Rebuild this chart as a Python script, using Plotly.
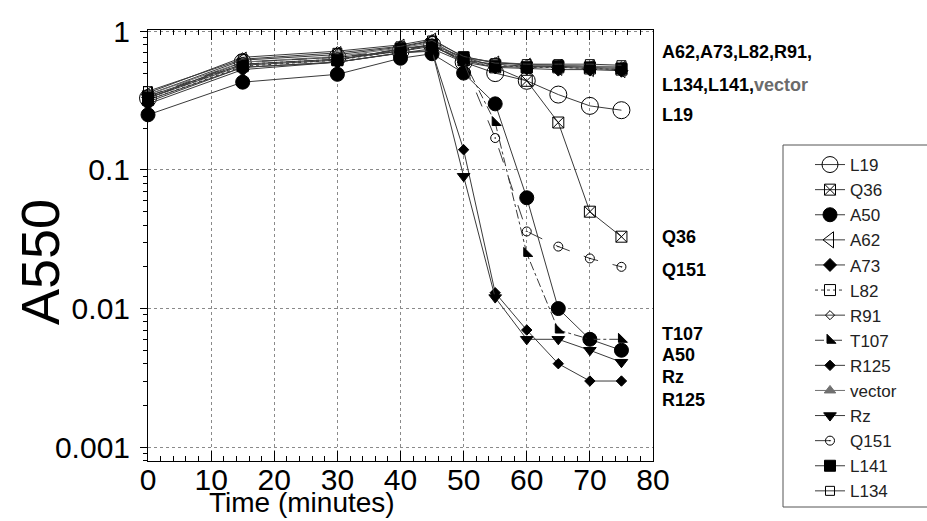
import plotly.graph_objects as go

time_min = [0, 15, 30, 40, 45, 50, 55, 60, 65, 70, 75]

L19 = [0.33, 0.60, 0.65, 0.72, 0.80, 0.60, 0.50, 0.44, 0.35, 0.29, 0.27]
Q36 = [0.34, 0.58, 0.63, 0.72, 0.78, 0.62, 0.55, 0.44, 0.22, 0.05, 0.033]
A50 = [0.25, 0.43, 0.49, 0.64, 0.69, 0.50, 0.30, 0.063, 0.010, 0.006, 0.005]
A62 = [0.35, 0.62, 0.68, 0.77, 0.85, 0.62, 0.58, 0.56, 0.55, 0.54, 0.53]
A73 = [0.30, 0.53, 0.60, 0.70, 0.75, 0.60, 0.55, 0.54, 0.53, 0.53, 0.52]
L82 = [0.32, 0.56, 0.62, 0.72, 0.78, 0.62, 0.57, 0.55, 0.55, 0.54, 0.53]
R91 = [0.36, 0.65, 0.72, 0.80, 0.88, 0.65, 0.60, 0.57, 0.57, 0.56, 0.55]
T107 = [0.33, 0.58, 0.63, 0.74, 0.80, 0.62, 0.22, 0.025, 0.007, 0.006, 0.006]
R125 = [0.31, 0.55, 0.60, 0.70, 0.72, 0.14, 0.013, 0.007, 0.004, 0.003, 0.003]
vector = [0.35, 0.60, 0.66, 0.76, 0.83, 0.64, 0.60, 0.58, 0.57, 0.56, 0.56]
Rz = [0.32, 0.55, 0.60, 0.70, 0.73, 0.09, 0.012, 0.006, 0.006, 0.005, 0.0041]
Q151 = [0.34, 0.60, 0.65, 0.74, 0.80, 0.60, 0.17, 0.036, 0.028, 0.023, 0.020]
L141 = [0.33, 0.57, 0.62, 0.75, 0.80, 0.65, 0.56, 0.55, 0.56, 0.55, 0.54]
L134 = [0.37, 0.63, 0.70, 0.78, 0.86, 0.66, 0.59, 0.58, 0.58, 0.58, 0.57]

y_tickvals = [0.001, 0.01, 0.1, 1]
y_ticktext = ["0.001", "0.01", "0.1", "1"]
x_tickvals = [0, 10, 20, 30, 40, 50, 60, 70, 80]

LINE = "#3a3a3a"
GRAY = "#707070"
FONT = "Arial, Liberation Sans, sans-serif"

series = [
    ("L19", L19, "circle-open", 17, "black", LINE, "solid"),
    ("Q36", Q36, "square-x-open", 11, "black", LINE, "solid"),
    ("A50", A50, "circle", 14, "black", LINE, "solid"),
    ("A62", A62, "triangle-left-open", 14, "black", LINE, "solid"),
    ("A73", A73, "diamond", 10, "black", LINE, "solid"),
    ("L82", L82, "square-open", 11, "black", LINE, "dot"),
    ("R91", R91, "diamond-open", 7, "black", LINE, "solid"),
    ("T107", T107, "triangle-sw", 10, "black", LINE, "dashdot"),
    ("R125", R125, "diamond", 8, "black", LINE, "solid"),
    ("vector", vector, "triangle-up", 10, GRAY, GRAY, "solid"),
    ("Rz", Rz, "triangle-down", 11, "black", LINE, "solid"),
    ("Q151", Q151, "circle-open-dot", 9, "black", LINE, "longdash"),
    ("L141", L141, "square", 11, "black", LINE, "solid"),
    ("L134", L134, "square-open", 9, "black", LINE, "solid"),
]

fig = go.Figure()
for name, vals, sym, size, mcol, lcol, dash in series:
    fig.add_trace(go.Scatter(
        x=time_min, y=vals, name=name, mode="lines+markers",
        line=dict(color=lcol, width=1, dash=dash),
        marker=dict(symbol=sym, size=size, color=mcol,
                    line=dict(color=mcol, width=1)),
        cliponaxis=False,
    ))

W, H = 927, 521
L, R, T, B = 148, 274, 30, 60
pw, ph = W - L - R, H - T - B

def px_x(x):
    return (x - L) / pw

def px_y(y):
    return (H - B - y) / ph

labels = [
    ("<b>A62,A73,L82,R91,</b>", 52),
    ("<b>L134,L141,</b><span style='color:#6b6b6b'><b>vector</b></span>", 85),
    ("<b>L19</b>", 115),
    ("<b>Q36</b>", 237),
    ("<b>Q151</b>", 270),
    ("<b>T107</b>", 334),
    ("<b>A50</b>", 355),
    ("<b>Rz</b>", 377),
    ("<b>R125</b>", 400),
]
annotations = []
for txt, ypx in labels:
    annotations.append(dict(
        text=txt, x=px_x(660), y=px_y(ypx), xref="paper", yref="paper",
        xanchor="left", yanchor="middle", showarrow=False,
        font=dict(family=FONT, size=18, color="black"),
    ))
annotations.append(dict(
    text="Time (minutes)", x=px_x(302), y=px_y(502), xref="paper", yref="paper",
    xanchor="center", yanchor="middle", showarrow=False,
    font=dict(family=FONT, size=28, color="black"),
))
annotations.append(dict(
    text="A550", x=px_x(40), y=px_y(262), xref="paper", yref="paper",
    xanchor="center", yanchor="middle", showarrow=False, textangle=-90,
    font=dict(family=FONT, size=54, color="black"),
))

# legend frame (the reference box runs past the right edge of the image)
shapes = [dict(
    type="rect", xref="paper", yref="paper",
    x0=px_x(783), x1=px_x(960), y0=px_y(507), y1=px_y(145),
    line=dict(color="#555", width=1), fillcolor="rgba(0,0,0,0)",
)]

fig.update_layout(
    width=W, height=H,
    margin=dict(l=L, r=R, t=T, b=B, autoexpand=False),
    paper_bgcolor="white", plot_bgcolor="white",
    font=dict(family=FONT, color="black"),
    showlegend=True,
    legend=dict(
        x=px_x(810), y=px_y(147), xanchor="left", yanchor="top",
        borderwidth=0, bgcolor="rgba(0,0,0,0)",
        font=dict(family=FONT, size=17, color="#222"),
        itemclick=False, itemdoubleclick=False,
    ),
    annotations=annotations,
    shapes=shapes,
)
fig.update_xaxes(
    range=[0, 80], tickvals=x_tickvals, ticks="inside", ticklen=10,
    tickcolor="black", showline=True, linecolor="black", linewidth=1,
    mirror="ticks", showgrid=True, gridcolor="#8a8a8a", griddash="dot",
    gridwidth=1, zeroline=False,
    tickfont=dict(family=FONT, size=30, color="black"),
    ticklabelstandoff=-8,
    minor=dict(ticks="inside", ticklen=5, dtick=2, tickcolor="black", showgrid=False),
)
fig.update_yaxes(
    type="log", range=[-3.1, 0.01], tickvals=y_tickvals, ticktext=y_ticktext,
    ticks="outside", ticklen=7, tickcolor="black", showline=True,
    linecolor="black", linewidth=1, mirror=True, showgrid=True,
    gridcolor="#8a8a8a", griddash="dot", gridwidth=1, zeroline=False,
    tickfont=dict(family=FONT, size=30, color="black"),
    ticklabelstandoff=4,
    minor=dict(ticks="outside", ticklen=4, dtick="D1", tickcolor="black", showgrid=False),
)

fig.write_html("out.html", config={"displayModeBar": False},
               post_script="document.body.style.margin='0px';")
